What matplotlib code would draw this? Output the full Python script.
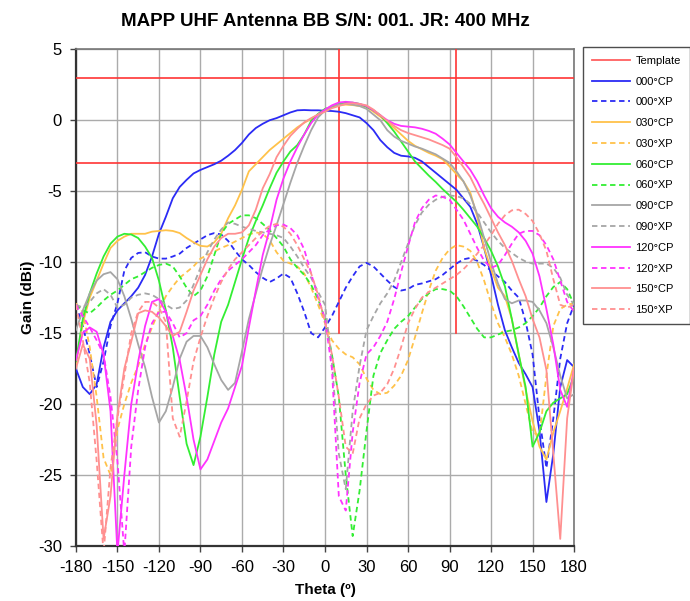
import matplotlib
matplotlib.use("Agg")
import matplotlib.pyplot as plt

plt.rcParams['font.family'] = ['Liberation Sans', 'DejaVu Sans']
plt.rcParams['axes.unicode_minus'] = False

# Measurement angles (degrees), 5 degree steps
theta = list(range(-180, 185, 5))

# Template limits
template_levels = [3, -3]
template_angles = [10, 95]
template_floor = -15
template_top = 5

# Gain patterns (dBi), one value per angle in theta
cp000 = [-17.5, -18.8, -19.3, -18.6, -16.0, -14.2, -13.4, -12.9, -12.4,
         -11.8, -10.9, -9.6, -8.0, -6.8, -5.5, -4.7, -4.2, -3.75,
         -3.5, -3.3, -3.1, -2.85, -2.5, -2.1, -1.6, -1.0, -0.55,
         -0.25, 0.0, 0.15, 0.35, 0.55, 0.7, 0.72, 0.7, 0.7,
         0.67, 0.65, 0.6, 0.5, 0.35, 0.2, -0.2, -0.7, -1.4,
         -1.9, -2.3, -2.5, -2.55, -2.65, -2.9, -3.3, -3.7, -4.1,
         -4.5, -4.9, -5.5, -6.1, -7.3, -9.0, -10.9, -13.0, -14.8,
         -16.0, -17.1, -17.9, -18.8, -21.9, -26.9, -23.5, -18.8, -16.9,
         -17.4]
xp000 = [-13.0, -14.5, -16.5, -18.8, -17.0, -14.5, -12.9, -10.6, -9.7,
         -9.35, -9.3, -9.6, -9.75, -9.75, -9.6, -9.4, -9.0, -8.7,
         -8.4, -8.1, -7.95, -8.05, -8.5, -9.2, -9.8, -10.2, -10.7,
         -11.1, -11.4, -11.15, -10.8, -11.1, -12.2, -13.5, -15.0, -15.3,
         -14.6, -13.8, -12.8, -11.8, -11.0, -10.3, -10.05, -10.3, -10.8,
         -11.3, -11.75, -12.0, -11.9, -11.6, -11.5, -11.35, -11.2, -10.9,
         -10.5, -10.1, -9.8, -9.7, -9.9, -10.2, -10.6, -11.0, -11.4,
         -12.0, -12.5, -14.2, -16.5, -21.0, -24.5, -21.0, -16.8, -14.3,
         -13.0]
cp030 = [-17.2, -14.3, -12.5, -11.3, -10.1, -9.0, -8.5, -8.2, -8.0,
         -8.0, -8.0, -7.85, -7.8, -7.75, -7.8, -7.95, -8.3, -8.6,
         -8.85, -8.9, -8.6, -8.0, -6.9, -6.0, -4.9, -3.6, -3.1,
         -2.6, -2.1, -1.7, -1.3, -0.9, -0.5, -0.18, 0.1, 0.4,
         0.7, 0.95, 1.07, 1.1, 1.07, 1.0, 0.95, 0.6, 0.25,
         -0.15, -0.55, -1.0, -1.45, -1.8, -2.05, -2.3, -2.5, -2.75,
         -3.25, -3.8, -4.3, -5.1, -6.8, -9.0, -10.5, -11.8, -12.4,
         -14.0, -16.5, -19.0, -21.2, -23.0, -23.9, -22.0, -20.5, -18.9,
         -17.2]
xp030 = [-12.9, -13.5, -16.0, -19.5, -23.8, -25.0, -21.8, -20.0, -18.5,
         -17.3, -15.8, -14.6, -13.4, -12.4, -11.7, -11.1, -10.7, -10.3,
         -9.75, -9.5, -9.25, -9.0, -8.8, -8.55, -8.3, -8.05, -7.9,
         -8.0, -8.45, -9.3, -9.9, -10.1, -10.3, -10.8, -11.8, -13.0,
         -14.3, -15.5, -16.1, -16.5, -16.7, -17.2, -18.2, -19.0, -19.3,
         -19.2, -18.7, -18.0, -16.9, -15.3, -13.6, -12.0, -10.6, -9.7,
         -9.1, -8.8, -8.9, -9.2, -10.0, -11.3, -12.9, -14.3, -15.3,
         -16.5, -18.0, -20.0, -22.0, -22.2, -18.0, -14.5, -13.3, -13.0,
         -12.9]
cp060 = [-17.0, -14.0, -12.2, -10.8, -9.6, -8.7, -8.2, -8.0, -8.05,
         -8.3, -8.9, -9.7, -11.3, -13.4, -16.0, -19.5, -22.8, -24.3,
         -22.3, -19.5, -16.5, -14.2, -13.0, -11.4, -9.8, -8.3, -7.1,
         -6.0, -4.8, -3.7, -2.9, -2.2, -1.75, -1.0, -0.05, 0.45,
         0.8, 0.95, 1.15, 1.24, 1.24, 1.15, 0.95, 0.7, 0.35,
         -0.2, -0.8, -1.5, -2.2, -2.9, -3.4, -3.9, -4.35, -4.85,
         -5.3, -5.75, -6.3, -6.9, -7.5, -8.3, -9.2, -10.3, -11.7,
         -14.0, -16.5, -18.8, -23.0, -22.0, -20.5, -19.9, -19.6, -19.3,
         -18.0]
xp060 = [-13.0, -13.4, -13.6, -13.2, -12.7, -12.3, -12.0, -11.6, -11.2,
         -11.0, -10.7, -10.4, -10.2, -10.1, -10.3, -11.0, -11.8, -12.4,
         -12.0, -11.0, -9.5, -8.0, -7.3, -7.0, -6.7, -6.7, -6.9,
         -7.3, -7.75, -8.3, -8.9, -9.8, -10.4, -10.9, -11.6, -12.6,
         -14.0, -16.5, -19.5, -25.0, -29.3, -26.1, -21.9, -18.0, -16.4,
         -15.5, -14.7, -14.2, -13.8, -13.2, -12.6, -12.2, -11.9, -11.9,
         -12.0, -12.4, -13.1, -13.9, -14.7, -15.3, -15.3, -15.1, -14.9,
         -14.8, -14.6, -14.3, -13.8, -13.2, -12.4, -11.75, -11.4, -11.9,
         -13.0]
cp090 = [-14.8, -13.4, -12.2, -11.3, -10.85, -10.7, -11.2, -12.4, -14.0,
         -15.8, -17.4, -19.5, -21.3, -20.5, -18.8, -16.8, -15.6, -15.2,
         -15.2, -16.0, -17.2, -18.3, -19.0, -18.5, -16.3, -14.0, -12.2,
         -10.4, -8.8, -7.4, -5.9, -4.4, -3.0, -1.8, -0.7, 0.2,
         0.7, 1.0, 1.1, 1.15, 1.1, 1.0, 0.8, 0.4, 0.0,
         -0.7, -1.15, -1.45, -1.65, -1.85, -2.0, -2.2, -2.4, -2.7,
         -3.0, -3.6, -4.3, -5.3, -6.6, -8.3, -10.0, -11.5, -12.6,
         -12.9, -12.7, -12.7, -12.8, -13.4, -14.3, -16.0, -18.0, -19.6,
         -19.3]
xp090 = [-13.0, -13.2, -12.8, -12.2, -11.9, -12.3, -13.2, -13.0, -12.5,
         -12.3, -12.2, -12.3, -12.6, -13.0, -13.3, -13.2, -12.7, -11.6,
         -10.4, -9.3, -8.4, -7.7, -7.2, -7.3, -7.5, -7.65, -7.8,
         -7.9, -8.0, -8.1, -8.3, -8.9, -9.6, -10.4, -11.1, -12.1,
         -13.0, -17.0, -23.5, -26.0, -20.5, -17.3, -14.8, -13.8, -12.9,
         -12.2, -11.3, -10.0, -8.7, -7.4, -6.5, -5.95, -5.6, -5.4,
         -5.3, -5.35, -5.5, -5.9, -6.5, -7.2, -7.9, -8.5, -9.0,
         -9.35, -9.7, -9.95, -10.1, -10.1, -10.1, -10.4, -11.1, -12.3,
         -13.0]
cp120 = [-16.9, -15.0, -14.6, -14.9, -16.5, -20.5, -30.5, -25.0, -20.0,
         -17.0, -14.5, -12.8, -12.6, -13.5, -15.2, -16.9, -19.5, -22.5,
         -24.6, -23.9, -22.6, -21.3, -20.3, -18.8, -17.3, -14.6, -12.0,
         -9.5, -7.7, -5.6, -4.1, -2.9, -1.9, -1.0, -0.2, 0.4,
         0.75, 1.05, 1.25, 1.3, 1.25, 1.15, 1.0, 0.7, 0.35,
         0.0, -0.25, -0.4, -0.45, -0.5, -0.6, -0.75, -0.95, -1.3,
         -1.7, -2.3, -2.9, -3.5, -4.3, -5.3, -6.2, -6.8, -7.2,
         -7.5, -7.9, -8.5, -9.4, -11.0, -13.3, -15.8, -19.0, -20.2,
         -17.5]
xp120 = [-13.0, -13.8, -14.6, -15.5, -16.5, -19.5, -24.0, -30.5, -23.0,
         -19.0, -16.0, -14.3, -13.5, -13.5, -14.3, -15.3, -15.0, -14.1,
         -13.8, -13.0, -12.0, -11.2, -10.6, -10.2, -9.8, -9.3, -8.8,
         -8.1, -7.7, -7.4, -7.35, -7.6, -8.1, -9.1, -10.8, -12.5,
         -14.0, -17.5, -26.5, -27.5, -22.0, -18.5, -16.5, -16.0, -15.2,
         -14.2, -12.6, -10.7, -8.9, -7.2, -6.2, -5.6, -5.3, -5.4,
         -5.6, -6.3, -7.0, -8.0, -9.0, -9.9, -10.4, -10.2, -9.5,
         -8.7, -8.0, -7.8, -7.8, -8.1, -8.8, -9.8, -11.3, -12.8,
         -13.5]
cp150 = [-17.5, -15.8, -16.8, -21.5, -29.5, -26.5, -20.8, -17.5, -15.6,
         -13.6, -13.4, -13.5, -13.9, -14.5, -15.2, -14.9, -13.5, -12.0,
         -10.9, -9.8, -8.9, -8.3, -8.0, -8.0, -7.9, -7.4, -6.3,
         -4.8, -3.8, -2.6, -1.8, -1.1, -0.6, -0.15, 0.15, 0.4,
         0.6, 0.85, 1.0, 1.15, 1.2, 1.15, 1.05, 0.75, 0.35,
         -0.05, -0.4, -0.7, -0.9, -1.05, -1.2, -1.35, -1.55, -1.75,
         -2.0, -2.6, -3.3, -4.0, -5.0, -5.9, -6.9, -7.9, -8.8,
         -9.9, -11.2, -12.4, -14.0, -15.3, -17.6, -23.5, -29.5, -21.0,
         -17.5]
xp150 = [-13.0, -15.5, -18.5, -24.0, -30.5, -24.5, -21.0, -18.0, -15.0,
         -13.5, -12.8, -12.8, -13.2, -14.2, -21.0, -22.3, -19.8, -17.0,
         -15.3, -13.8, -12.5, -11.4, -10.5, -9.8, -9.3, -8.8, -8.3,
         -7.8, -7.45, -7.3, -7.5, -8.0, -8.8, -9.8, -10.8, -12.3,
         -14.2, -16.5, -19.5, -23.0, -23.5, -21.0, -20.0, -19.4, -19.2,
         -18.6, -17.5, -16.0, -14.3, -13.3, -12.5, -12.1, -11.8, -11.5,
         -11.2, -10.9, -10.5, -10.0, -9.4, -8.8, -8.1, -7.3, -6.7,
         -6.35, -6.3, -6.6, -7.1, -8.0, -9.2, -11.2, -13.0, -13.2,
         -13.0]

series = [
    ("000°CP", cp000, "#2B2BF5", "-"),
    ("000°XP", xp000, "#2B2BF5", (0, (3, 2))),
    ("030°CP", cp030, "#FFC24A", "-"),
    ("030°XP", xp030, "#FFC24A", (0, (3, 2))),
    ("060°CP", cp060, "#33EE33", "-"),
    ("060°XP", xp060, "#33EE33", (0, (3, 2))),
    ("090°CP", cp090, "#A6A6A6", "-"),
    ("090°XP", xp090, "#A6A6A6", (0, (3, 2))),
    ("120°CP", cp120, "#FF33FF", "-"),
    ("120°XP", xp120, "#FF33FF", (0, (3, 2))),
    ("150°CP", cp150, "#FF9090", "-"),
    ("150°XP", xp150, "#FF9090", (0, (3, 2))),
]

fig = plt.figure(figsize=(6.9, 6.01), dpi=100)
ax = fig.add_axes([0.110, 0.0915, 0.722, 0.8265])

template_color = "#FF3535"
for lvl in template_levels:
    ax.plot([theta[0], theta[-1]], [lvl, lvl], color=template_color, lw=1.2, zorder=3)
for ang in template_angles:
    ax.plot([ang, ang], [template_floor, template_top], color=template_color, lw=1.2, zorder=3)

handles = [plt.Line2D([], [], color="#FF6060", lw=1.3)]
labels = ["Template"]
for name, vals, col, ls in series:
    assert len(vals) == len(theta), name
    h, = ax.plot(theta, vals, color=col, ls=ls, lw=1.3, zorder=4)
    handles.append(h)
    labels.append(name)

ax.set_xlim(-180, 180)
ax.set_ylim(-30, 5)
ax.set_xticks(range(-180, 181, 30))
ax.set_yticks(range(-30, 6, 5))
ax.grid(True, color="#ABABAB", lw=1.0, zorder=0)
ax.set_axisbelow(True)
ax.tick_params(axis="both", labelsize=12, length=4, width=1, color="#444444", pad=6)
for side in ("left", "bottom"):
    ax.spines[side].set_color("#333333")
    ax.spines[side].set_linewidth(1.6)
for side in ("top", "right"):
    ax.spines[side].set_color("#777777")
    ax.spines[side].set_linewidth(1.2)

ax.set_title("MAPP UHF Antenna BB S/N: 001. JR: 400 MHz", fontsize=13.5,
             fontweight="bold", pad=17)
ax.set_xlabel("Theta (º)", fontsize=11, fontweight="bold", labelpad=6)
ax.set_ylabel("Gain (dBi)", fontsize=11, fontweight="bold", labelpad=2)

leg = fig.legend(handles, labels, loc="upper left", bbox_to_anchor=(0.845, 0.922),
                 fontsize=8, frameon=True, fancybox=False, edgecolor="#222222",
                 handlelength=3.4, handletextpad=0.5, labelspacing=0.97,
                 borderpad=0.8, borderaxespad=0)
leg.get_frame().set_linewidth(1.0)

fig.savefig("out.png", dpi=100)
